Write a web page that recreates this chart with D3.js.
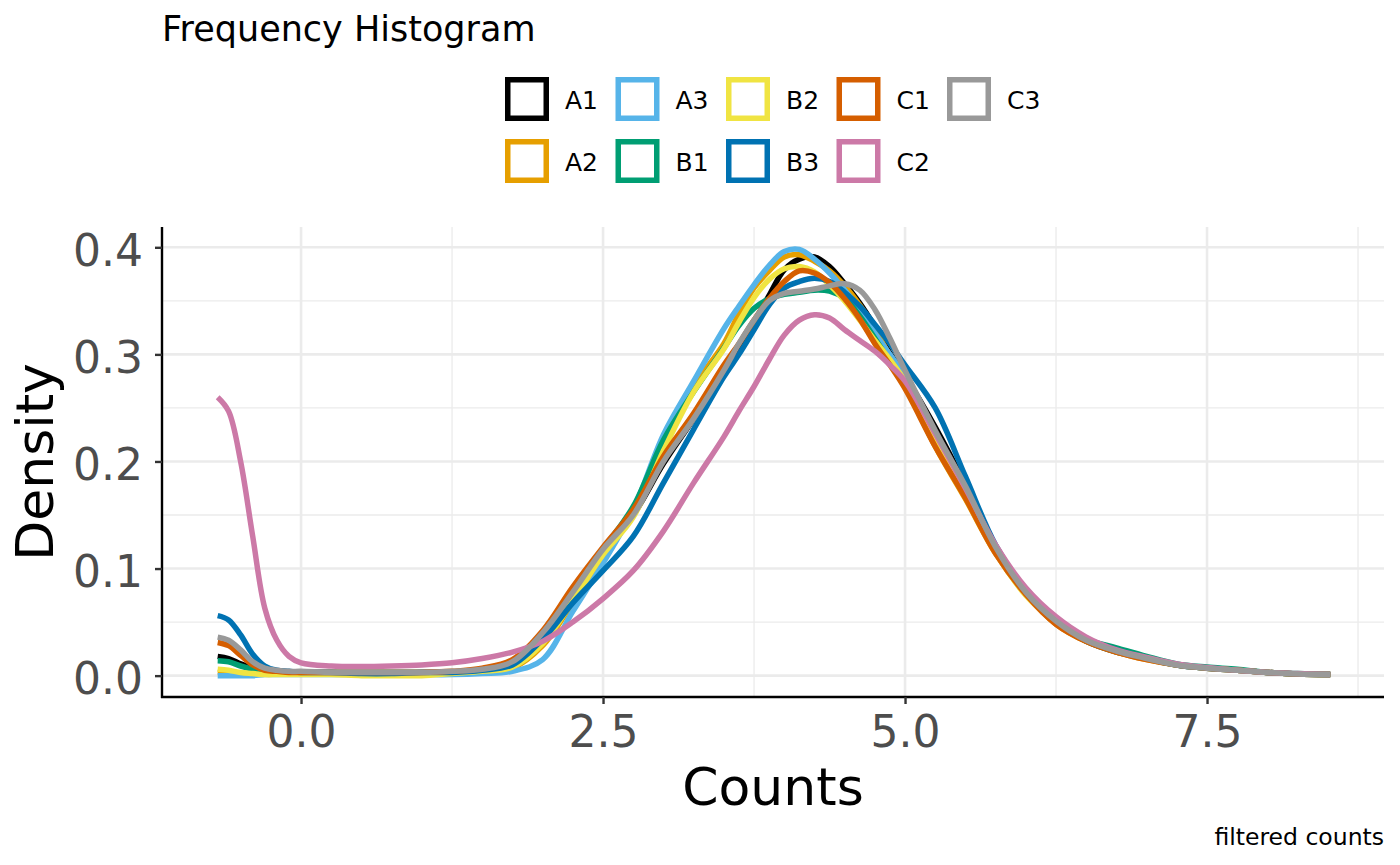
<!DOCTYPE html>
<html>
<head>
<meta charset="utf-8">
<script src="https://cdn.jsdelivr.net/npm/d3@7/dist/d3.min.js"></script>
<style>
  body { margin: 0; background: #fff; }
  text { font-family: "DejaVu Sans", sans-serif; }
</style>
</head>
<body>
<script>
var counts = [-0.69, -0.6, -0.5, -0.4, -0.3, -0.2, -0.1, 0, 0.25, 0.5, 0.75, 1, 1.25, 1.5, 1.75,
  2, 2.25, 2.5, 2.75, 3, 3.25, 3.5, 3.625, 3.75, 3.875, 4, 4.125, 4.25, 4.375, 4.5, 4.625, 4.75,
  4.875, 5, 5.25, 5.5, 5.75, 6, 6.25, 6.5, 6.75, 7, 7.25, 7.5, 7.75, 8, 8.25, 8.52];

var densA1 = [0.018, 0.016, 0.011, 0.007, 0.004, 0.003, 0.003, 0.003, 0.003, 0.003, 0.003, 0.003, 0.003, 0.005, 0.011,
  0.036, 0.075, 0.115, 0.15, 0.198, 0.24, 0.285, 0.307, 0.33, 0.355, 0.379, 0.389, 0.391, 0.382, 0.366, 0.348, 0.326,
  0.301, 0.28, 0.232, 0.178, 0.118, 0.077, 0.05, 0.032, 0.022, 0.016, 0.01, 0.007, 0.005, 0.003, 0.0015, 0.001];
var densA2 = [0.003, 0.003, 0.002, 0.002, 0.002, 0.002, 0.002, 0.002, 0.002, 0.002, 0.002, 0.002, 0.002, 0.004, 0.007,
  0.028, 0.068, 0.11, 0.155, 0.218, 0.27, 0.31, 0.338, 0.362, 0.378, 0.391, 0.393, 0.387, 0.378, 0.364, 0.346, 0.324,
  0.298, 0.272, 0.214, 0.165, 0.114, 0.076, 0.048, 0.032, 0.022, 0.015, 0.01, 0.007, 0.005, 0.003, 0.0015, 0.001];
var densA3 = [0, 0, 0, 0, 0.001, 0.001, 0.001, 0.001, 0.001, 0.001, 0.001, 0.001, 0.001, 0.002, 0.004,
  0.015, 0.06, 0.105, 0.155, 0.225, 0.275, 0.324, 0.345, 0.365, 0.383, 0.396, 0.398, 0.389, 0.376, 0.36, 0.342, 0.32,
  0.3, 0.28, 0.225, 0.17, 0.117, 0.077, 0.05, 0.033, 0.023, 0.016, 0.01, 0.007, 0.005, 0.003, 0.0015, 0.001];
var densB1 = [0.014, 0.013, 0.009, 0.006, 0.004, 0.003, 0.003, 0.003, 0.003, 0.003, 0.003, 0.003, 0.003, 0.006, 0.012,
  0.038, 0.078, 0.118, 0.158, 0.22, 0.265, 0.306, 0.327, 0.343, 0.352, 0.356, 0.358, 0.36, 0.359, 0.352, 0.336, 0.315,
  0.293, 0.27, 0.222, 0.17, 0.118, 0.078, 0.051, 0.034, 0.026, 0.018, 0.011, 0.008, 0.006, 0.003, 0.002, 0.001];
var densB2 = [0.006, 0.005, 0.003, 0.002, 0.001, 0.001, 0.001, 0.001, 0.001, 0, 0, 0, 0.002, 0.004, 0.008,
  0.03, 0.07, 0.113, 0.148, 0.21, 0.265, 0.305, 0.33, 0.353, 0.37, 0.38, 0.382, 0.377, 0.365, 0.35, 0.332, 0.313,
  0.295, 0.275, 0.22, 0.168, 0.115, 0.075, 0.05, 0.033, 0.023, 0.016, 0.01, 0.007, 0.005, 0.003, 0.0015, 0.001];
var densB3 = [0.056, 0.052, 0.038, 0.02, 0.009, 0.005, 0.004, 0.003, 0.003, 0.002, 0.002, 0.003, 0.003, 0.005, 0.01,
  0.034, 0.068, 0.098, 0.13, 0.18, 0.23, 0.279, 0.3, 0.323, 0.346, 0.362, 0.368, 0.371, 0.368, 0.358, 0.345, 0.328,
  0.31, 0.29, 0.25, 0.186, 0.122, 0.08, 0.052, 0.034, 0.024, 0.016, 0.01, 0.007, 0.005, 0.003, 0.0015, 0.001];
var densC1 = [0.031, 0.028, 0.019, 0.01, 0.005, 0.004, 0.003, 0.003, 0.003, 0.003, 0.003, 0.003, 0.004, 0.007, 0.015,
  0.042, 0.083, 0.12, 0.155, 0.205, 0.245, 0.29, 0.31, 0.332, 0.352, 0.368, 0.378, 0.376, 0.367, 0.352, 0.333, 0.31,
  0.29, 0.268, 0.214, 0.166, 0.114, 0.076, 0.048, 0.032, 0.022, 0.015, 0.01, 0.007, 0.005, 0.003, 0.0015, 0.001];
var densC2 = [0.26, 0.247, 0.2, 0.13, 0.063, 0.033, 0.018, 0.012, 0.009, 0.0085, 0.009, 0.01, 0.012, 0.016, 0.022,
  0.032, 0.05, 0.072, 0.098, 0.135, 0.18, 0.223, 0.247, 0.27, 0.295, 0.318, 0.332, 0.337, 0.334, 0.323, 0.313, 0.303,
  0.29, 0.275, 0.226, 0.175, 0.122, 0.082, 0.055, 0.036, 0.024, 0.017, 0.011, 0.0075, 0.005, 0.003, 0.002, 0.001];
var densC3 = [0.036, 0.033, 0.024, 0.013, 0.007, 0.005, 0.004, 0.004, 0.003, 0.003, 0.003, 0.003, 0.004, 0.006, 0.013,
  0.04, 0.078, 0.118, 0.15, 0.2, 0.24, 0.285, 0.31, 0.332, 0.35, 0.357, 0.359, 0.361, 0.364, 0.366, 0.36, 0.342,
  0.315, 0.285, 0.229, 0.177, 0.12, 0.078, 0.051, 0.033, 0.023, 0.016, 0.01, 0.007, 0.005, 0.003, 0.0015, 0.001];

var sampleNames = ["A1", "A2", "A3", "B1", "B2", "B3", "C1", "C2", "C3"];
var sampleColors = ["#000000", "#E69F00", "#56B4E9", "#009E73", "#F0E442", "#0072B2", "#D55E00", "#CC79A7", "#999999"];
var xTicks = [0, 2.5, 5, 7.5];
var yTicks = [0, 0.1, 0.2, 0.3, 0.4];

var allDens = [densA1, densA2, densA3, densB1, densB2, densB3, densC1, densC2, densC3];

var W = 1400, H = 865;
var panel = { left: 162, right: 1384, top: 227, bottom: 697 };

var svg = d3.select("body").append("svg")
  .attr("width", W)
  .attr("height", H)
  .style("display", "block");

svg.append("rect").attr("width", W).attr("height", H).attr("fill", "#fff");

var x = d3.scaleLinear().domain([-1.151, 8.965]).range([panel.left, panel.right]);
var y = d3.scaleLinear().domain([-0.01995, 0.41895]).range([panel.bottom, panel.top]);

// grid: minor then major
var grid = svg.append("g");
var xMinor = [1.25, 3.75, 6.25, 8.75];
var yMinor = [0.05, 0.15, 0.25, 0.35];

grid.selectAll(".xm").data(xMinor).enter().append("line")
  .attr("x1", function (d) { return x(d); }).attr("x2", function (d) { return x(d); })
  .attr("y1", panel.top).attr("y2", panel.bottom)
  .attr("stroke", "#EBEBEB").attr("stroke-width", 1.3);
grid.selectAll(".ym").data(yMinor).enter().append("line")
  .attr("y1", function (d) { return y(d); }).attr("y2", function (d) { return y(d); })
  .attr("x1", panel.left).attr("x2", panel.right)
  .attr("stroke", "#EBEBEB").attr("stroke-width", 1.3);
grid.selectAll(".xM").data(xTicks).enter().append("line")
  .attr("x1", function (d) { return x(d); }).attr("x2", function (d) { return x(d); })
  .attr("y1", panel.top).attr("y2", panel.bottom)
  .attr("stroke", "#EBEBEB").attr("stroke-width", 2.6);
grid.selectAll(".yM").data(yTicks).enter().append("line")
  .attr("y1", function (d) { return y(d); }).attr("y2", function (d) { return y(d); })
  .attr("x1", panel.left).attr("x2", panel.right)
  .attr("stroke", "#EBEBEB").attr("stroke-width", 2.6);

// density curves, drawn in factor order so C3 ends on top
var line = d3.line()
  .x(function (d) { return x(d[0]); })
  .y(function (d) { return y(Math.max(0, d[1])); })
  .curve(d3.curveCatmullRom.alpha(0.5));

svg.append("g").selectAll("path")
  .data(allDens)
  .enter()
  .append("path")
  .attr("d", function (dens) {
    return line(counts.map(function (c, i) { return [c, dens[i]]; }));
  })
  .attr("fill", "none")
  .attr("stroke", function (d, i) { return sampleColors[i]; })
  .attr("stroke-width", 5.5)
  .attr("stroke-linejoin", "round");

// axes
var xAxis = d3.axisBottom(x).tickValues(xTicks).tickFormat(d3.format(".1f")).tickSize(7).tickPadding(12);
var yAxis = d3.axisLeft(y).tickValues(yTicks).tickFormat(d3.format(".1f")).tickSize(7).tickPadding(12);

var gx = svg.append("g").attr("transform", "translate(0," + panel.bottom + ")").call(xAxis);
var gy = svg.append("g").attr("transform", "translate(" + panel.left + ",0)").call(yAxis);

[gx, gy].forEach(function (g) {
  g.select(".domain").attr("stroke", "#000").attr("stroke-width", 2.4);
  g.selectAll(".tick line").attr("stroke", "#333333").attr("stroke-width", 2.4);
  g.selectAll(".tick text")
    .attr("fill", "#4D4D4D")
    .style("font-size", "44px")
    .style("font-family", "'DejaVu Sans', sans-serif");
});
gy.select(".domain").attr("d", "M0," + panel.top + "V" + (panel.bottom + 1));
gx.select(".domain").attr("d", "M" + (panel.left - 1) + ",0H" + panel.right);
gy.selectAll(".tick text").attr("dy", "0.41em");

// axis titles
svg.append("text")
  .attr("x", (panel.left + panel.right) / 2)
  .attr("y", 805)
  .attr("text-anchor", "middle")
  .style("font-size", "52px")
  .text("Counts");

svg.append("text")
  .attr("transform", "translate(53," + (panel.top + panel.bottom) / 2 + ") rotate(-90)")
  .attr("text-anchor", "middle")
  .style("font-size", "52px")
  .text("Density");

// caption
svg.append("text")
  .attr("x", panel.right)
  .attr("y", 845)
  .attr("text-anchor", "end")
  .style("font-size", "23.5px")
  .text("filtered counts");

// legend title
svg.append("text")
  .attr("x", 162)
  .attr("y", 41)
  .style("font-size", "35px")
  .text("Frequency Histogram");

// legend: two rows, filled column by column
var legend = svg.append("g");
var keys = legend.selectAll("g").data(sampleNames).enter().append("g")
  .attr("transform", function (d, i) {
    var col = Math.floor(i / 2), row = i % 2;
    return "translate(" + (505 + col * 110.5) + "," + (77 + row * 62) + ")";
  });

keys.append("rect")
  .attr("x", 2.75).attr("y", 2.75)
  .attr("width", 38.5).attr("height", 38.5)
  .attr("fill", "none")
  .attr("stroke", function (d, i) { return sampleColors[i]; })
  .attr("stroke-width", 5.5);

keys.append("text")
  .attr("x", 60)
  .attr("y", 32)
  .style("font-size", "25px")
  .text(function (d) { return d; });
</script>
</body>
</html>
